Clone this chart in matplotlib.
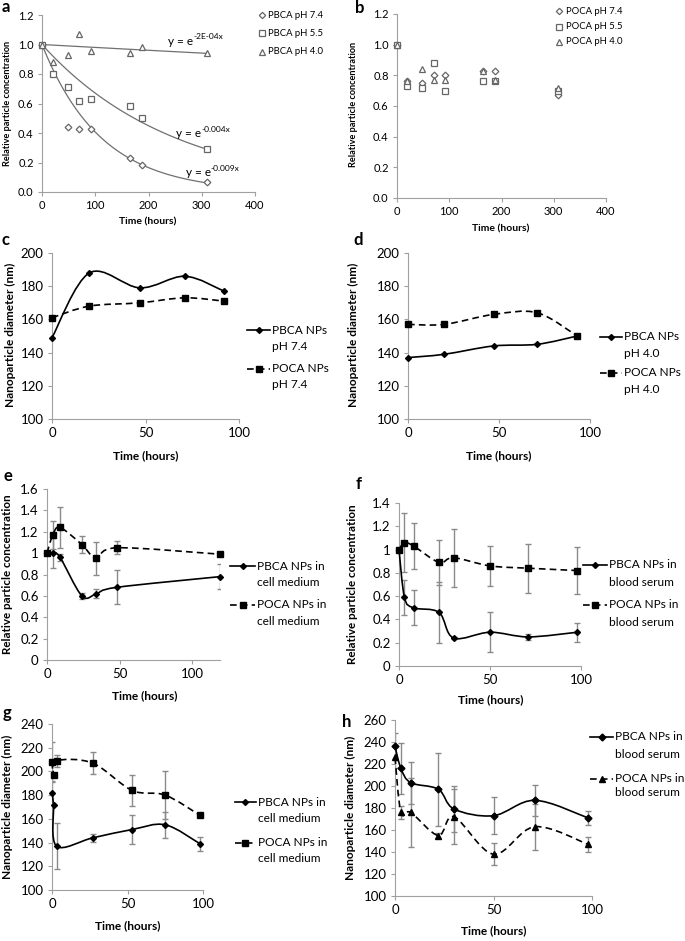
import numpy as np
import matplotlib
matplotlib.use('Agg')
import matplotlib.pyplot as plt
from matplotlib.path import Path
from matplotlib.patches import PathPatch
from matplotlib.lines import Line2D

plt.rcParams['font.family'] = ['Lato', 'DejaVu Sans']

W, H = 685, 941

## Data

# a: PBCA degradation at different pH
timeA74 = [0, 48, 70, 92, 165, 188, 309]
timeA = [0, 20, 48, 70, 92, 165, 188, 309]
pbca74 = [1.0, 0.44, 0.43, 0.43, 0.23, 0.18, 0.07]
pbca55 = [1.0, 0.80, 0.71, 0.615, 0.63, 0.585, 0.50, 0.29]
pbca40 = [1.0, 0.88, 0.93, 1.07, 0.955, 0.94, 0.985, 0.945]
fitRates = [-0.009, -0.004, -0.0002]
fitLabels = ['-0.009x', '-0.004x', '-2E-04x']

# b: POCA degradation at different pH
timeB = [0, 20, 48, 70, 92, 165, 188, 309]
poca74 = [1.0, 0.76, 0.75, 0.80, 0.80, 0.83, 0.83, 0.67]
poca55 = [1.0, 0.73, 0.72, 0.88, 0.70, 0.76, 0.76, 0.70]
poca40 = [1.0, 0.76, 0.84, 0.77, 0.77, 0.83, 0.77, 0.72]

# c, d: diameter at pH 7.4 / 4.0
timeC = [0, 20, 47, 71, 92]
pbcaC = [149, 188, 179, 186, 177]
pocaC = [161, 168, 170, 173, 171]
timeD = [0, 20, 47, 71, 93]
pbcaD = [137, 139, 144, 145, 150]
pocaD = [157, 157, 163, 164, 150]

# e: concentration in cell medium
timeE = [0, 4, 9, 24, 34, 48, 119]
pbcaE = [1.0, 1.0, 0.96, 0.60, 0.62, 0.68, 0.78]
pbcaEerr = [0, 0.14, 0.03, 0.03, 0.04, 0.16, 0.12]
pocaE = [1.0, 1.17, 1.24, 1.08, 0.95, 1.05, 0.99]
pocaEerr = [0, 0.13, 0.19, 0.08, 0.15, 0.06, 0.01]

# f: concentration in blood serum
timeF = [0, 3, 8, 22, 30, 50, 71, 98]
pbcaF = [1.0, 0.59, 0.50, 0.46, 0.24, 0.29, 0.25, 0.29]
pbcaFerr = [0, 0.15, 0.15, 0.26, 0.01, 0.17, 0.025, 0.08]
pocaF = [1.0, 1.06, 1.03, 0.89, 0.93, 0.86, 0.84, 0.82]
pocaFerr = [0, 0.25, 0.2, 0.19, 0.25, 0.17, 0.21, 0.2]

# g: diameter in cell medium
timeG = [0, 1, 3, 27, 53, 75, 98]
pbcaG = [182, 172, 137, 144, 151, 155, 139]
pbcaGerr = [10, 0, 19.5, 3.5, 12, 11, 6]
pocaG = [208, 197, 209, 207, 184, 180, 163]
pocaGerr = [17, 0, 5, 9.5, 13, 20, 1]

# h: diameter in blood serum
timeH = [0, 3, 8, 22, 30, 50, 71, 98]
pbcaH = [236, 216, 203, 197, 179, 173, 187, 171]
pbcaHerr = [12, 23, 19, 33, 21, 17, 14, 6]
pocaH = [226, 176, 176, 155, 172, 138, 163, 147]
pocaHerr = [10, 6, 31, 2, 25, 10, 21, 7]

## Helpers

fig = plt.figure(figsize=(W/100, H/100), dpi=100)

def fx(x):
	return x/W
def fy(y):
	return 1 - y/H

def makeAxes(l, t, r, b):
	return fig.add_axes([fx(l), fy(b), (r-l)/W, (b-t)/H])

axisGrey = '#a0a0a0'
barGrey = '#8a8a8a'
markGrey = '#666666'

def styleAxes(ax, xlim, xticks, ylim, yticks, ylabels, fs):
	ax.set_xlim(xlim)
	ax.set_ylim(ylim)
	ax.set_xticks(xticks)
	ax.set_yticks(yticks)
	ax.set_yticklabels(ylabels)
	for s in ['top', 'right']:
		ax.spines[s].set_visible(False)
	for s in ['left', 'bottom']:
		ax.spines[s].set_color(axisGrey)
		ax.spines[s].set_linewidth(0.8)
	ax.tick_params(direction='out', length=3, width=0.8, color=axisGrey, labelsize=fs, pad=3, labelcolor='black')
	ax.patch.set_alpha(0)

# Excel style smoothed line as cubic bezier segments
def smoothPath(xs, ys):
	pts = np.column_stack([xs, ys]).astype(float)
	n = len(pts)
	verts = [pts[0]]
	codes = [Path.MOVETO]
	for i in range(n-1):
		p0 = pts[max(i-1, 0)]
		p1 = pts[i]
		p2 = pts[i+1]
		p3 = pts[min(i+2, n-1)]
		verts += [p1 + (p2-p0)/6, p2 - (p3-p1)/6, p2]
		codes += [Path.CURVE4]*3
	return Path(verts, codes)

dashStyle = (0, (4, 2.5))

def drawSeries(ax, xs, ys, err, marker, ms, dashed):
	ls = dashStyle if dashed else '-'
	ax.add_patch(PathPatch(smoothPath(xs, ys), fill=False, lw=1.2, ls=ls, edgecolor='black', zorder=3, clip_on=False))
	if err is not None:
		ax.errorbar(xs, ys, yerr=err, fmt='none', ecolor=barGrey, elinewidth=1, capsize=2.5, capthick=1, zorder=2)
	ax.plot(xs, ys, ls='none', marker=marker, ms=ms, color='black', zorder=4, clip_on=False)

def drawKey(x0, x1, y, marker, ms, dashed, lines, gap, fs):
	ls = dashStyle if dashed else '-'
	fig.add_artist(Line2D([fx(x0), fx(x1)], [fy(y), fy(y)], color='black', lw=1.2, ls=ls))
	fig.add_artist(Line2D([fx((x0+x1)/2)], [fy(y)], marker=marker, ms=ms, color='black', ls='none'))
	for i, txt in enumerate(lines):
		fig.text(fx(x1+2), fy(y + i*gap), txt, fontsize=fs, va='center', ha='left')

def panelLetter(x, y, s):
	fig.text(fx(x), fy(y), s, fontsize=12, fontweight='bold', va='center', ha='left')

def yLabel(x, y, s, fs):
	fig.text(fx(x), fy(y), s, fontsize=fs, fontweight='bold', rotation=90, va='center', ha='center')

def xLabel(x, y, s, fs):
	fig.text(fx(x), fy(y), s, fontsize=fs, fontweight='bold', va='center', ha='center')

def openMarkers(ax, tx, ty, m, ms):
	ax.plot(tx, ty, ls='none', marker=m, ms=ms, mfc='white', mec=markGrey, mew=0.9, zorder=4, clip_on=False)

concTicks = [0, 0.2, 0.4, 0.6, 0.8, 1.0, 1.2]
concLabels = ['0.0', '0.2', '0.4', '0.6', '0.8', '1.0', '1.2']

## a
axA = makeAxes(42, 15, 255, 192)
styleAxes(axA, (0, 400), [0, 100, 200, 300, 400], (0, 1.2), concTicks, concLabels, 8)
xFit = np.linspace(0, 309, 100)
for k in fitRates:
	axA.plot(xFit, np.exp(k*xFit), color='#707070', lw=0.9, zorder=3)
openMarkers(axA, timeA74, pbca74, 'D', 3.4)
openMarkers(axA, timeA, pbca55, 's', 4.6)
openMarkers(axA, timeA, pbca40, '^', 4.8)
for (tx, ty, lab) in [(237, 1.0, fitLabels[2]), (252, 0.37, fitLabels[1]), (270, 0.11, fitLabels[0])]:
	base = axA.text(tx, ty, 'y = e', fontsize=8.5, va='baseline', ha='left')
	axA.annotate(lab, xy=(1.0, 0.55), xycoords=base, fontsize=6, va='bottom', ha='left')
panelLetter(2, 7, 'a')
yLabel(8, 103, 'Relative particle concentration', 6.6)
xLabel(148, 222, 'Time (hours)', 7.5)
for i, (m, ms, lab) in enumerate([('D', 3.2, 'PBCA pH 7.4'), ('s', 4.6, 'PBCA pH 5.5'), ('^', 4.8, 'PBCA pH 4.0')]):
	yy = [15, 33, 52][i]
	fig.add_artist(Line2D([fx(262)], [fy(yy)], marker=m, ms=ms, mfc='white', mec=markGrey, mew=0.9, ls='none'))
	fig.text(fx(268), fy(yy), lab, fontsize=6.8, va='center', ha='left')

## b
axB = makeAxes(397, 14, 606, 198)
styleAxes(axB, (0, 400), [0, 100, 200, 300, 400], (0, 1.2), concTicks, concLabels, 8)
openMarkers(axB, timeB, poca74, 'D', 3.4)
openMarkers(axB, timeB, poca55, 's', 4.6)
openMarkers(axB, timeB, poca40, '^', 4.8)
panelLetter(355, 8, 'b')
yLabel(354, 104, 'Relative particle concentration', 6.6)
xLabel(501, 229, 'Time (hours)', 7.5)
for i, (m, ms, lab) in enumerate([('D', 3.2, 'POCA pH 7.4'), ('s', 4.6, 'POCA pH 5.5'), ('^', 4.8, 'POCA pH 4.0')]):
	yy = [11, 26.5, 42][i]
	fig.add_artist(Line2D([fx(559)], [fy(yy)], marker=m, ms=ms, mfc='white', mec=markGrey, mew=0.9, ls='none'))
	fig.text(fx(566), fy(yy), lab, fontsize=6.8, va='center', ha='left')

diamTicks = [100, 120, 140, 160, 180, 200]
diamLabels = [str(v) for v in diamTicks]

## c
axC = makeAxes(52, 253, 239, 419)
styleAxes(axC, (0, 100), [0, 50, 100], (100, 200), diamTicks, diamLabels, 9.5)
drawSeries(axC, timeC, pbcaC, None, 'D', 3, False)
drawSeries(axC, timeC, pocaC, None, 's', 4.5, True)
panelLetter(2, 240, 'c')
yLabel(10, 335, 'Nanoparticle diameter (nm)', 8.6)
xLabel(146, 456, 'Time (hours)', 8.6)
drawKey(247, 270, 330, 'D', 3, False, ['PBCA NPs', 'pH 7.4'], 16, 8.6)
drawKey(247, 270, 369, 's', 4.5, True, ['POCA NPs', 'pH 7.4'], 16, 8.6)

## d
axD = makeAxes(408, 253, 590, 419)
styleAxes(axD, (0, 100), [0, 50, 100], (100, 200), diamTicks, diamLabels, 9.5)
drawSeries(axD, timeD, pbcaD, None, 'D', 3, False)
drawSeries(axD, timeD, pocaD, None, 's', 4.5, True)
panelLetter(353, 240, 'd')
yLabel(353, 335, 'Nanoparticle diameter (nm)', 8.6)
xLabel(499, 456, 'Time (hours)', 8.6)
drawKey(600, 622, 337, 'D', 3, False, ['PBCA NPs', 'pH 4.0'], 16.5, 8.6)
drawKey(600, 622, 373, 's', 4.5, True, ['POCA NPs', 'pH 4.0'], 16.5, 8.6)

relTicksE = [0, 0.2, 0.4, 0.6, 0.8, 1.0, 1.2, 1.4, 1.6]
relLabelsE = ['0', '0.2', '0.4', '0.6', '0.8', '1', '1.2', '1.4', '1.6']

## e
axE = makeAxes(47, 489, 220, 660)
styleAxes(axE, (0, 119), [0, 50, 100], (0, 1.6), relTicksE, relLabelsE, 9.5)
drawSeries(axE, timeE, pbcaE, pbcaEerr, 'D', 3, False)
drawSeries(axE, timeE, pocaE, pocaEerr, 's', 4.5, True)
panelLetter(3, 476, 'e')
yLabel(8, 574, 'Relative particle concentration', 8.4)
xLabel(145, 696, 'Time (hours)', 8.6)
drawKey(230, 255, 566, 'D', 3, False, ['PBCA NPs in', 'cell medium'], 16.5, 8.6)
drawKey(230, 255, 605, 's', 4.5, True, ['POCA NPs in', 'cell medium'], 16.5, 8.6)

## f
axF = makeAxes(399, 503, 581, 666)
styleAxes(axF, (0, 100), [0, 50, 100], (0, 1.4), relTicksE[:8], relLabelsE[:8], 9.5)
drawSeries(axF, timeF, pbcaF, pbcaFerr, 'D', 3, False)
drawSeries(axF, timeF, pocaF, pocaFerr, 's', 4.5, True)
panelLetter(356, 484, 'f')
yLabel(353, 584, 'Relative particle concentration', 8.4)
xLabel(491, 700, 'Time (hours)', 8.6)
drawKey(583, 607, 565, 'D', 3, False, ['PBCA NPs in', 'blood serum'], 17, 8.6)
drawKey(583, 607, 605, 's', 4.5, True, ['POCA NPs in', 'blood serum'], 17, 8.6)

## g
axG = makeAxes(52, 724, 203, 890)
gTicks = [100, 120, 140, 160, 180, 200, 220, 240]
styleAxes(axG, (0, 100), [0, 50, 100], (100, 240), gTicks, [str(v) for v in gTicks], 9.5)
drawSeries(axG, timeG, pbcaG, pbcaGerr, 'D', 3, False)
drawSeries(axG, timeG, pocaG, pocaGerr, 's', 4.5, True)
panelLetter(3, 713, 'g')
yLabel(7, 807, 'Nanoparticle diameter (nm)', 8.6)
xLabel(128, 926, 'Time (hours)', 8.6)
drawKey(235, 256, 802, 'D', 3, False, ['PBCA NPs in', 'cell medium'], 16, 8.6)
drawKey(235, 256, 843, 's', 4.5, True, ['POCA NPs in', 'cell medium'], 15, 8.6)

## h
axH = makeAxes(395, 720, 592, 896)
hTicks = [100, 120, 140, 160, 180, 200, 220, 240, 260]
styleAxes(axH, (0, 100), [0, 50, 100], (100, 260), hTicks, [str(v) for v in hTicks], 9.5)
drawSeries(axH, timeH, pbcaH, pbcaHerr, 'D', 3.5, False)
drawSeries(axH, timeH, pocaH, pocaHerr, '^', 4, True)
panelLetter(342, 722, 'h')
yLabel(350, 808, 'Nanoparticle diameter (nm)', 8.6)
xLabel(494, 931, 'Time (hours)', 8.6)
drawKey(590, 613, 737, 'D', 3.5, False, ['PBCA NPs in', 'blood serum'], 17, 8.6)
drawKey(590, 613, 779, '^', 4, True, ['POCA NPs in', 'blood serum'], 14, 8.6)

fig.savefig('out.png', dpi=100)
